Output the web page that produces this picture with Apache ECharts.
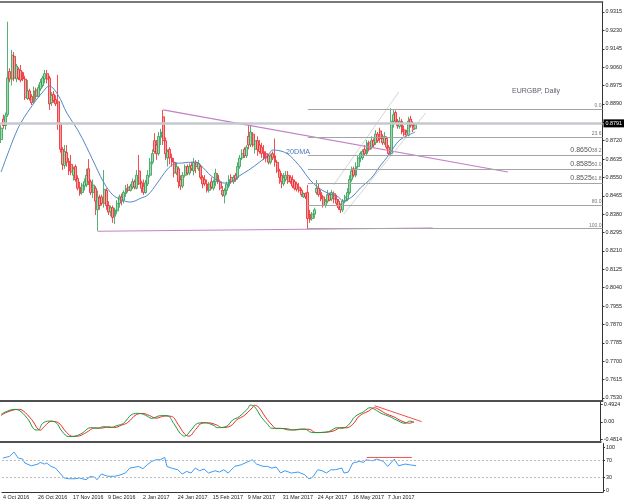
<!DOCTYPE html>
<html>
<head>
<meta charset="utf-8">
<script src="https://cdn.jsdelivr.net/npm/echarts@6/dist/echarts.min.js"></script>
<style>
  html, body { margin: 0; padding: 0; background: #fff; }
  #chart { width: 625px; height: 504px; }
</style>
</head>
<body>
<div id="chart"></div>
<script>
// EURGBP daily, 4 Oct 2016 .. 26 Jun 2017
const slotCount = 275;          // bars that fit the window incl. the empty right shift
const monthNames = ['Jan', 'Feb', 'Mar', 'Apr', 'May', 'Jun', 'Jul', 'Aug', 'Sep', 'Oct', 'Nov', 'Dec'];

// weekday categories starting 4 Oct 2016
const dates = [];
let day = new Date(Date.UTC(2016, 9, 4));
while (dates.length < slotCount) {
    const wd = day.getUTCDay();
    if (wd !== 0 && wd !== 6) {
        dates.push(day.getUTCDate() + ' ' + monthNames[day.getUTCMonth()] + ' ' + day.getUTCFullYear());
    }
    day = new Date(day.getTime() + 86400000);
}

// [open, close, low, high]
const candles = [
    [0.8725,0.8778,0.8709,0.8792],[0.8820,0.8790,0.8775,0.8840],[0.8790,0.8835,0.8770,0.8850],[0.8840,0.9010,0.8830,0.9270],
    [0.9040,0.9005,0.8990,0.9055],[0.9005,0.9115,0.8975,0.9140],[0.9110,0.9010,0.8995,0.9130],[0.9005,0.9065,0.8990,0.9075],
    [0.9050,0.9010,0.9000,0.9060],[0.9045,0.9000,0.8990,0.9070],[0.9035,0.9005,0.8995,0.9040],[0.9005,0.8920,0.8908,0.9020],
    [0.8915,0.8950,0.8908,0.9000],[0.8950,0.8915,0.8905,0.8960],[0.8925,0.8895,0.8885,0.8935],[0.8900,0.8950,0.8890,0.8970],
    [0.8955,0.8925,0.8910,0.8965],[0.8925,0.8965,0.8920,0.8980],[0.8960,0.8990,0.8950,0.9005],[0.8975,0.9010,0.8965,0.9020],
    [0.9005,0.9030,0.8985,0.9047],[0.9030,0.9005,0.8985,0.9047],[0.9010,0.8890,0.8862,0.9020],[0.8895,0.8930,0.8880,0.8945],
    [0.8935,0.8905,0.8895,0.8950],[0.8910,0.8890,0.8880,0.8930],[0.8900,0.8800,0.8770,0.9024],[0.8795,0.8680,0.8665,0.8805],
    [0.8680,0.8610,0.8584,0.8690],[0.8605,0.8670,0.8590,0.8700],[0.8665,0.8620,0.8600,0.8700],[0.8625,0.8580,0.8561,0.8640],
    [0.8610,0.8575,0.8560,0.8654],[0.8560,0.8590,0.8535,0.8600],[0.8600,0.8540,0.8530,0.8610],[0.8545,0.8500,0.8490,0.8560],
    [0.8505,0.8475,0.8465,0.8530],[0.8480,0.8515,0.8470,0.8525],[0.8510,0.8530,0.8490,0.8545],[0.8515,0.8560,0.8505,0.8590],
    [0.8590,0.8530,0.8515,0.8635],[0.8530,0.8480,0.8469,0.8540],[0.8480,0.8515,0.8455,0.8540],[0.8500,0.8440,0.8376,0.8510],
    [0.8400,0.8460,0.8303,0.8490],[0.8455,0.8420,0.8400,0.8470],[0.8460,0.8430,0.8420,0.8470],[0.8430,0.8495,0.8410,0.8584],
    [0.8490,0.8420,0.8400,0.8500],[0.8420,0.8390,0.8376,0.8440],[0.8390,0.8410,0.8370,0.8420],[0.8410,0.8365,0.8340,0.8420],
    [0.8370,0.8400,0.8335,0.8410],[0.8395,0.8430,0.8380,0.8445],[0.8430,0.8460,0.8410,0.8470],[0.8460,0.8440,0.8420,0.8475],
    [0.8445,0.8480,0.8430,0.8490],[0.8475,0.8500,0.8460,0.8515],[0.8505,0.8490,0.8480,0.8520],[0.8490,0.8510,0.8485,0.8520],
    [0.8505,0.8530,0.8495,0.8545],[0.8530,0.8505,0.8495,0.8540],[0.8500,0.8560,0.8495,0.8584],[0.8580,0.8520,0.8515,0.8654],
    [0.8525,0.8500,0.8480,0.8535],[0.8510,0.8480,0.8469,0.8540],[0.8480,0.8525,0.8475,0.8538],[0.8520,0.8560,0.8510,0.8584],
    [0.8560,0.8620,0.8550,0.8640],[0.8620,0.8660,0.8610,0.8680],[0.8720,0.8670,0.8660,0.8755],[0.8700,0.8660,0.8631,0.8723],
    [0.8660,0.8740,0.8650,0.8760],[0.8735,0.8760,0.8700,0.8775],[0.8830,0.8720,0.8700,0.8862],[0.8720,0.8660,0.8631,0.8735],
    [0.8640,0.8670,0.8600,0.8680],[0.8680,0.8640,0.8610,0.8690],[0.8640,0.8620,0.8600,0.8660],[0.8620,0.8570,0.8550,0.8640],
    [0.8570,0.8600,0.8560,0.8620],[0.8590,0.8530,0.8500,0.8600],[0.8540,0.8510,0.8492,0.8560],[0.8510,0.8560,0.8500,0.8575],
    [0.8560,0.8600,0.8550,0.8610],[0.8600,0.8570,0.8560,0.8610],[0.8570,0.8600,0.8560,0.8615],[0.8605,0.8590,0.8580,0.8620],
    [0.8580,0.8620,0.8560,0.8640],[0.8620,0.8600,0.8570,0.8630],[0.8590,0.8615,0.8580,0.8630],[0.8600,0.8550,0.8540,0.8610],
    [0.8550,0.8520,0.8500,0.8560],[0.8540,0.8520,0.8510,0.8560],[0.8520,0.8490,0.8480,0.8540],[0.8490,0.8520,0.8480,0.8530],
    [0.8530,0.8505,0.8495,0.8550],[0.8500,0.8530,0.8490,0.8540],[0.8530,0.8570,0.8510,0.8590],[0.8560,0.8530,0.8520,0.8570],
    [0.8530,0.8500,0.8490,0.8540],[0.8490,0.8470,0.8460,0.8510],[0.8465,0.8490,0.8430,0.8500],[0.8490,0.8520,0.8470,0.8530],
    [0.8510,0.8540,0.8500,0.8560],[0.8550,0.8530,0.8520,0.8565],[0.8530,0.8550,0.8520,0.8560],[0.8560,0.8540,0.8530,0.8570],
    [0.8550,0.8600,0.8540,0.8620],[0.8600,0.8640,0.8590,0.8654],[0.8640,0.8660,0.8630,0.8680],[0.8680,0.8650,0.8640,0.8690],
    [0.8650,0.8690,0.8640,0.8700],[0.8740,0.8700,0.8680,0.8792],[0.8700,0.8760,0.8690,0.8790],[0.8750,0.8700,0.8690,0.8760],
    [0.8680,0.8720,0.8660,0.8735],[0.8720,0.8680,0.8650,0.8740],[0.8700,0.8670,0.8660,0.8723],[0.8690,0.8660,0.8640,0.8710],
    [0.8670,0.8640,0.8630,0.8700],[0.8660,0.8640,0.8620,0.8670],[0.8650,0.8620,0.8610,0.8660],[0.8620,0.8650,0.8610,0.8660],
    [0.8660,0.8640,0.8630,0.8670],[0.8650,0.8620,0.8600,0.8730],[0.8620,0.8580,0.8570,0.8630],[0.8580,0.8550,0.8520,0.8590],
    [0.8560,0.8530,0.8500,0.8570],[0.8520,0.8550,0.8510,0.8570],[0.8540,0.8560,0.8530,0.8580],[0.8560,0.8530,0.8520,0.8580],
    [0.8550,0.8530,0.8520,0.8560],[0.8540,0.8510,0.8500,0.8560],[0.8530,0.8500,0.8490,0.8540],[0.8520,0.8495,0.8485,0.8530],
    [0.8505,0.8490,0.8480,0.8525],[0.8490,0.8470,0.8460,0.8500],[0.8460,0.8475,0.8455,0.8480],[0.8475,0.8460,0.8450,0.8480],
    [0.8480,0.8360,0.8311,0.8515],[0.8380,0.8355,0.8340,0.8400],[0.8360,0.8380,0.8350,0.8390],[0.8380,0.8400,0.8360,0.8410],
    [0.8480,0.8500,0.8470,0.8538],[0.8500,0.8470,0.8460,0.8520],[0.8480,0.8450,0.8440,0.8492],[0.8460,0.8420,0.8410,0.8470],
    [0.8420,0.8440,0.8410,0.8450],[0.8440,0.8470,0.8430,0.8492],[0.8470,0.8445,0.8440,0.8480],[0.8450,0.8480,0.8440,0.8492],
    [0.8475,0.8450,0.8430,0.8485],[0.8450,0.8430,0.8420,0.8470],[0.8440,0.8410,0.8400,0.8450],[0.8420,0.8400,0.8385,0.8430],
    [0.8400,0.8440,0.8390,0.8450],[0.8440,0.8460,0.8430,0.8470],[0.8450,0.8480,0.8440,0.8500],[0.8480,0.8540,0.8470,0.8560],
    [0.8540,0.8580,0.8530,0.8600],[0.8590,0.8560,0.8550,0.8600],[0.8560,0.8600,0.8550,0.8620],[0.8600,0.8640,0.8590,0.8654],
    [0.8640,0.8660,0.8620,0.8670],[0.8640,0.8670,0.8630,0.8680],[0.8680,0.8660,0.8650,0.8700],[0.8660,0.8710,0.8650,0.8723],
    [0.8710,0.8680,0.8670,0.8720],[0.8690,0.8720,0.8680,0.8740],[0.8720,0.8700,0.8690,0.8730],[0.8710,0.8750,0.8700,0.8769],
    [0.8750,0.8720,0.8710,0.8760],[0.8765,0.8730,0.8710,0.8780],[0.8730,0.8710,0.8700,0.8750],[0.8710,0.8740,0.8700,0.8760],
    [0.8730,0.8690,0.8680,0.8740],[0.8690,0.8660,0.8650,0.8700],[0.8660,0.8810,0.8650,0.8870],[0.8810,0.8840,0.8780,0.8865],
    [0.8850,0.8810,0.8800,0.8860],[0.8810,0.8790,0.8775,0.8820],[0.8785,0.8810,0.8775,0.8830],[0.8810,0.8760,0.8750,0.8820],
    [0.8770,0.8750,0.8740,0.8790],[0.8760,0.8745,0.8735,0.8770],[0.8745,0.8810,0.8740,0.8830],[0.8820,0.8790,0.8780,0.8835],
    [0.8800,0.8770,0.8760,0.8810],[0.8775,0.8791,0.8770,0.8800]
];

// 20-day moving average as drawn, [bar index, price]
const ma20 = [
    [0,0.8575],[6,0.8737],[9,0.8802],[15,0.8894],[19,0.8945],[22,0.8973],[26,0.8931],[30,0.8848],[35,0.8769],
    [39,0.8691],[44,0.8584],[47,0.8524],[51,0.8469],[55,0.8446],[59,0.8436],[64,0.8455],[67,0.8469],[71,0.8520],
    [76,0.8589],[79,0.8612],[83,0.8617],[88,0.8621],[91,0.8607],[96,0.8556],[102,0.8524],[105,0.8529],[108,0.8552],
    [113,0.8584],[118,0.8621],[122,0.8654],[124,0.8677],[129,0.8668],[132,0.8649],[137,0.8593],[141,0.8538],
    [145,0.8501],[149,0.8478],[154,0.8459],[156,0.8441],[160,0.8459],[164,0.8501],[169,0.8547],[173,0.8603],
    [177,0.8654],[179,0.8686],[182,0.8723],[186,0.8746],[189,0.8760]
];

const lastPrice = 0.8791;
const priceTicks = [0.9315,0.9230,0.9145,0.9060,0.8975,0.8890,0.8805,0.8720,0.8635,0.8550,0.8465,
    0.8380,0.8295,0.8210,0.8125,0.8040,0.7955,0.7870,0.7785,0.7700,0.7615,0.7530];

// Fibonacci retracement drawn from the April low bar
const fibStart = 140;
const fibLevels = [0.8865, 0.8735, 0.8654, 0.8589, 0.8524, 0.8423, 0.8313];
const fibNames = ['0.0', '23.6', '38.2', '50.0', '61.8', '80.0', '100.0'];
const fibPrices = ['', '', '0.8650', '0.8585', '0.8525', '', ''];

// drawn lines, [bar index, price]
const resistLine = [[74, 0.8862], [231.3, 0.8575]];
const supportLine = [[44, 0.8301], [197, 0.8316]];
const channelUpper = [[151.8, 0.8515], [181.5, 0.8945]];
const channelLower = [[156.4, 0.8381], [193.8, 0.8848]];

// oscillator pane
const oscFast = [
    [0,0.206],[6,0.345],[8,0.325],[12,0.095],[16,-0.231],[17,-0.231],[19,-0.044],[22,0.019],[25,-0.017],
    [28,-0.275],[31,-0.414],[34,-0.398],[37,-0.322],[41,-0.164],[44,-0.183],[47,-0.136],[50,-0.164],[53,-0.108],
    [56,-0.044],[60,0.206],[63,0.234],[66,0.186],[69,0.095],[73,0.170],[76,0.170],[79,-0.044],[82,-0.322],
    [84,-0.398],[87,-0.231],[90,-0.044],[93,-0.025],[97,-0.092],[99,-0.164],[103,-0.136],[106,0.047],[109,0.142],
    [113,0.373],[114,0.464],[116,0.420],[119,0.142],[122,-0.072],[124,-0.183],[128,-0.183],[132,-0.231],
    [136,-0.211],[139,-0.203],[142,-0.295],[145,-0.303],[147,-0.295],[150,-0.275],[154,-0.164],[156,-0.183],
    [159,-0.092],[162,0.142],[166,0.281],[169,0.392],[171,0.345],[174,0.234],[178,0.142],[181,0.047],
    [185,-0.044],[187,0.019],[189,-0.017]
];
const oscSlow = [
    [0,0.17],[2,0.25],[8,0.345],[10,0.31],[14,0.06],[18,-0.235],[20,-0.12],[23,0.01],[26,-0.02],[30,-0.30],
    [33,-0.41],[36,-0.39],[39,-0.30],[43,-0.17],[46,-0.18],[49,-0.14],[52,-0.16],[55,-0.10],[58,-0.02],[62,0.20],
    [65,0.23],[68,0.17],[71,0.10],[75,0.16],[78,0.15],[81,-0.07],[84,-0.34],[86,-0.40],[89,-0.22],[92,-0.04],
    [95,-0.03],[99,-0.10],[101,-0.16],[105,-0.12],[108,0.06],[111,0.16],[115,0.39],[116,0.46],[118,0.40],
    [121,0.13],[124,-0.09],[126,-0.19],[130,-0.19],[134,-0.23],[138,-0.21],[141,-0.21],[144,-0.30],[147,-0.30],
    [149,-0.29],[152,-0.26],[156,-0.16],[158,-0.17],[161,-0.07],[164,0.16],[168,0.29],[171,0.39],[173,0.34],
    [176,0.23],[180,0.13],[183,0.03],[187,-0.04],[189,0.00]
];
const oscTicks = [0.4924, 0, -0.4814];
const oscDivergence = [[171, 0.448], [192.5, 0.003]];

// RSI pane
const rsi = [
    [0,75.3],[3,79.3],[5,89.2],[7,75.3],[9,73.0],[10,63.8],[13,57.6],[16,61.5],[17,65.4],[19,61.5],[20,63.8],
    [22,56.2],[24,52.3],[26,40.8],[28,29.3],[30,27.6],[33,27.6],[35,29.3],[38,25.3],[40,33.2],[42,30.9],[43,25.3],
    [45,38.5],[48,33.2],[51,33.2],[53,35.5],[56,40.8],[58,52.3],[60,53.9],[62,56.2],[64,50.7],[66,59.9],[68,67.7],
    [70,71.4],[72,71.4],[74,77.0],[75,56.2],[77,52.3],[80,48.4],[82,38.5],[84,44.7],[86,40.8],[88,52.3],[90,46.1],
    [92,50.0],[94,40.8],[97,46.1],[99,43.1],[101,48.4],[103,40.8],[106,56.2],[109,59.9],[113,69.1],[114,71.4],
    [116,61.5],[119,56.2],[121,56.2],[123,52.3],[125,54.6],[127,40.8],[129,46.1],[132,40.8],[135,43.1],[138,36.9],
    [140,27.6],[141,29.3],[142,33.2],[144,48.4],[146,46.1],[148,40.8],[150,48.4],[152,48.4],[155,52.3],[156,40.8],
    [158,43.1],[160,63.8],[163,67.7],[165,65.4],[166,71.4],[169,69.1],[171,73.0],[174,67.7],[176,56.2],[179,73.0],
    [181,57.6],[184,61.5],[186,59.9],[189,57.6]
];
const rsiTicks = [100, 70, 30, 0];
const rsiLevels = [70, 30];
const rsiTop = [[166.4, 76.8], [187, 76.8]];

const font = 'Liberation Sans, Arial, sans-serif';
const frame = '#505050';

const chart = echarts.init(document.getElementById('chart'));

const plainLine = (xi, yi, data, color, width) => ({
    type: 'line', xAxisIndex: xi, yAxisIndex: yi, data: data,
    symbol: 'none', silent: true, lineStyle: { color: color, width: width }
});

const rightAxis = (grid, min, max, ticks, fmt) => ({
    type: 'value', gridIndex: grid, position: 'right', min: min, max: max,
    axisLine: { show: true, onZero: false, lineStyle: { color: '#333', width: 1 } },
    axisTick: { show: true, length: 2, inside: false, customValues: ticks, lineStyle: { color: '#333' } },
    axisLabel: { customValues: ticks, formatter: fmt, fontSize: 5.4, color: '#222', margin: 3, fontFamily: font },
    splitLine: { show: false }
});

chart.setOption({
    animation: false,
    backgroundColor: '#fff',
    title: {
        text: 'EURGBP, Daily', left: 507, top: 83,
        textStyle: { fontSize: 7, fontWeight: 'normal', color: '#5c5c6c', fontFamily: font }
    },
    grid: [
        { left: 0, width: 603, top: 2, height: 399 },
        { left: 0, width: 603, top: 402, height: 39.5 },
        { left: 0, width: 603, top: 443.5, height: 48.5 }
    ],
    xAxis: [
        { type: 'category', gridIndex: 0, data: dates, boundaryGap: true,
          axisLine: { onZero: false, lineStyle: { color: frame, width: 2 } },
          axisTick: { show: false }, axisLabel: { show: false } },
        { type: 'value', gridIndex: 0, position: 'top', min: -0.5, max: slotCount - 0.5,
          axisLine: { show: true, onZero: false, lineStyle: { color: frame, width: 1.5 } },
          axisTick: { show: false }, axisLabel: { show: false }, splitLine: { show: false } },
        { type: 'value', gridIndex: 1, min: -0.5, max: slotCount - 0.5,
          axisLine: { show: true, onZero: false, lineStyle: { color: frame, width: 2 } },
          axisTick: { show: false }, axisLabel: { show: false }, splitLine: { show: false } },
        { type: 'category', gridIndex: 2, data: dates, boundaryGap: true,
          axisLine: { onZero: false, lineStyle: { color: '#333', width: 1 } },
          axisTick: { show: false },
          axisLabel: {
              interval: (i) => i % 16 === 0 && i < candles.length,
              align: 'left', fontSize: 5.4, color: '#222', margin: 3, fontFamily: font
          } },
        { type: 'value', gridIndex: 2, min: -0.5, max: slotCount - 0.5, show: false }
    ],
    yAxis: [
        rightAxis(0, 0.75159, 0.93613, priceTicks, (v) => v.toFixed(4)),
        rightAxis(1, -0.55, 0.55, oscTicks, (v) => (v === 0 ? '0.00' : v.toFixed(4))),
        rightAxis(2, -3, 109, rsiTicks, (v) => String(v))
    ],
    series: [
        {
            type: 'candlestick', xAxisIndex: 0, yAxisIndex: 0, data: candles,
            barWidth: 2.4, silent: true,
            itemStyle: {
                color: '#a3d9b1', color0: '#f7a3a5',
                borderColor: '#2a9d52', borderColor0: '#ee2226', borderWidth: 0.8
            },
            markLine: {
                silent: true, symbol: 'none',
                lineStyle: { color: '#c5c9ce', width: 2.5, type: 'solid' },
                label: {
                    position: 'end', distance: 1, formatter: lastPrice.toFixed(4),
                    backgroundColor: '#000', color: '#fff', fontSize: 5.4, padding: [1.5, 2], fontFamily: font
                },
                data: [{ yAxis: lastPrice }]
            }
        },
        Object.assign(plainLine(1, 0, ma20, '#5287c6', 1), {
            smooth: 0.35,
            markPoint: {
                silent: true, symbol: 'circle', symbolSize: 0,
                label: { show: true, position: 'inside', formatter: '20DMA', fontSize: 7.2, color: '#4a7ab8', fontFamily: font },
                data: [{ coord: [135.5, 0.8667] }]
            },
            markLine: {
                silent: true, symbol: 'none',
                lineStyle: { color: '#a4a4a4', width: 1, type: 'solid' },
                label: {
                    position: 'insideEndTop', distance: [1, 1],
                    fontFamily: font,
                    rich: {
                        b: { fontSize: 7, color: '#555' },
                        s: { fontSize: 5, color: '#777' }
                    }
                },
                data: fibLevels.map((lv, k) => [
                    { coord: [fibStart, lv],
                      label: { formatter: (fibPrices[k] ? '{b|' + fibPrices[k] + '}' : '') + '{s|' + fibNames[k] + '}' } },
                    { coord: [slotCount - 0.5, lv] }
                ])
            }
        }),
        plainLine(1, 0, resistLine, '#c47fc6', 1.2),
        plainLine(1, 0, supportLine, '#c47fc6', 1.2),
        plainLine(1, 0, channelUpper, '#cacaca', 0.8),
        plainLine(1, 0, channelLower, '#cacaca', 0.8),
        Object.assign(plainLine(2, 1, oscSlow, '#f02828', 1), { smooth: 0.4 }),
        Object.assign(plainLine(2, 1, oscFast, '#1f9a3c', 1), { smooth: 0.4 }),
        plainLine(2, 1, oscDivergence, '#f05050', 1),
        Object.assign(plainLine(4, 2, rsi, '#3d9cf2', 1), {
            markLine: {
                silent: true, symbol: 'none', label: { show: false },
                lineStyle: { color: '#b8b8b8', width: 1, type: [2, 2] },
                data: rsiLevels.map((v) => ({ yAxis: v }))
            }
        }),
        plainLine(4, 2, rsiTop, '#f05050', 1)
    ]
});
</script>
</body>
</html>
